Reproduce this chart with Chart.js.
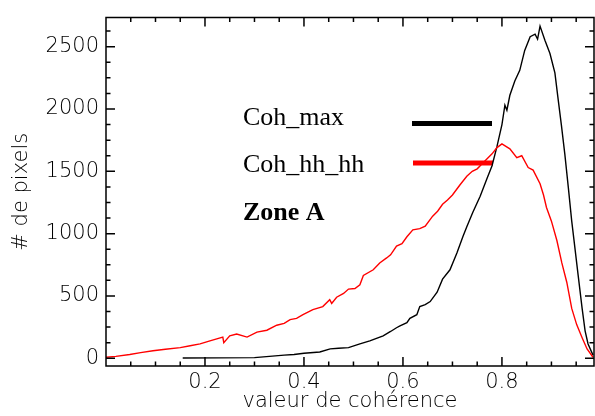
<!DOCTYPE html>
<html>
<head>
<meta charset="utf-8">
<script src="https://cdn.jsdelivr.net/npm/chart.js@4/dist/chart.umd.min.js"></script>
<style>
  html, body { margin: 0; padding: 0; background: #fff; }
  #wrap { width: 595px; height: 416px; }
</style>
</head>
<body>
<div id="wrap"><canvas id="histo"></canvas></div>
<script>
// coherence histogram
const cohHhX = [0.000, 0.020, 0.048, 0.070, 0.095, 0.120, 0.150, 0.170, 0.190, 0.210,
  0.236, 0.238, 0.250, 0.264, 0.285, 0.305, 0.325, 0.345, 0.360, 0.372,
  0.385, 0.398, 0.418, 0.438, 0.452, 0.456, 0.466, 0.480, 0.490, 0.503,
  0.513, 0.520, 0.540, 0.553, 0.567, 0.575, 0.587, 0.598, 0.608, 0.620,
  0.634, 0.645, 0.660, 0.670, 0.680, 0.690, 0.700, 0.715, 0.729, 0.740,
  0.750, 0.760, 0.770, 0.780, 0.790, 0.800, 0.808, 0.816, 0.830, 0.840,
  0.853, 0.863, 0.877, 0.884, 0.890, 0.900, 0.911, 0.921, 0.931, 0.941,
  0.951, 0.962, 0.972, 0.984];
const cohHhY = [8, 15, 30, 45, 60, 72, 85, 100, 115, 140,
  170, 125, 180, 195, 170, 210, 225, 265, 280, 310,
  320, 350, 390, 415, 470, 440, 490, 520, 555, 560,
  590, 665, 710, 765, 805, 830, 900, 920, 975, 1030,
  1040, 1060, 1140, 1180, 1235, 1270, 1310, 1390, 1460, 1500,
  1520, 1560, 1600, 1640, 1690, 1720, 1700, 1680, 1610, 1625,
  1530, 1510, 1400, 1310, 1210, 1100, 945, 765, 610, 400,
  270, 165, 75, 8];

const cohMaxX = [0.155, 0.300, 0.330, 0.360, 0.380, 0.400, 0.432, 0.453, 0.470, 0.490,
  0.513, 0.533, 0.560, 0.575, 0.587, 0.594, 0.608, 0.614, 0.628, 0.634,
  0.645, 0.655, 0.669, 0.680, 0.695, 0.709, 0.721, 0.729, 0.741, 0.756,
  0.770, 0.780, 0.790, 0.800, 0.806, 0.810, 0.816, 0.826, 0.836, 0.846,
  0.857, 0.867, 0.872, 0.877, 0.887, 0.897, 0.907, 0.913, 0.920, 0.927,
  0.934, 0.941, 0.947, 0.954, 0.962, 0.968, 0.974, 0.984];
const cohMaxY = [2, 5, 15, 25, 30, 40, 50, 75, 80, 85,
  115, 140, 180, 215, 245, 260, 285, 320, 350, 415,
  430, 455, 530, 635, 710, 845, 975, 1055, 1170, 1300,
  1445, 1545, 1700, 1875, 2030, 1990, 2110, 2225, 2310, 2470,
  2580, 2600, 2560, 2665, 2550, 2445, 2290, 2095, 1875, 1640,
  1375, 1100, 900, 665, 400, 220, 115, 25];

const xTicks = [0.2, 0.4, 0.6, 0.8];
const xTickLabels = ["0.2", "0.4", "0.6", "0.8"];
const yTicks = [0, 500, 1000, 1500, 2000, 2500];
const yTickLabels = ["0", "500", "1000", "1500", "2000", "2500"];
const seriesNames = ["Coh_max", "Coh_hh_hh"];
const zoneName = "Zone A";

const toPoints = (xs, ys) => xs.map((v, i) => ({ x: v, y: ys[i] }));

const axisFont = { family: "DejaVu Sans", size: 21, weight: 200, lineHeight: 1 };

// box with inward ticks on all four sides
const framePlugin = {
  id: "frame",
  afterDatasetsDraw(chart) {
    const { ctx, chartArea: a, scales } = chart;
    const x = scales.x, y = scales.y;
    ctx.save();
    ctx.strokeStyle = "#000";
    ctx.lineWidth = 1.5;
    ctx.strokeRect(a.left, a.top, a.right - a.left, a.bottom - a.top);
    ctx.beginPath();
    for (let i = 1; i * 0.05 < x.max; i++) {
      const len = i % 4 === 0 ? 9 : 4.5;
      const px = x.getPixelForValue(i * 0.05);
      ctx.moveTo(px, a.bottom); ctx.lineTo(px, a.bottom - len);
      ctx.moveTo(px, a.top); ctx.lineTo(px, a.top + len);
    }
    for (let v = 0; v < y.max; v += 125) {
      const len = v % 500 === 0 ? 9 : 4.5;
      const py = y.getPixelForValue(v);
      ctx.moveTo(a.left, py); ctx.lineTo(a.left + len, py);
      ctx.moveTo(a.right, py); ctx.lineTo(a.right - len, py);
    }
    ctx.stroke();
    ctx.restore();
  }
};

const legendPlugin = {
  id: "zoneLegend",
  beforeDatasetsDraw(chart) {
    const ctx = chart.ctx;
    ctx.save();
    ctx.fillStyle = "#000";
    ctx.textBaseline = "alphabetic";
    ctx.font = "26px 'Liberation Serif'";
    ctx.fillText(seriesNames[0], 243, 125);
    ctx.fillText(seriesNames[1], 243, 172);
    ctx.font = "bold 26px 'Liberation Serif'";
    ctx.fillText(zoneName, 243, 220);
    ctx.lineWidth = 5;
    ctx.strokeStyle = "#000";
    ctx.beginPath(); ctx.moveTo(412, 123.5); ctx.lineTo(492, 123.5); ctx.stroke();
    ctx.strokeStyle = "#ff0000";
    ctx.beginPath(); ctx.moveTo(413, 163); ctx.lineTo(493, 163); ctx.stroke();
    ctx.restore();
  }
};

new Chart(document.getElementById("histo"), {
  type: "line",
  data: {
    datasets: [
      {
        label: seriesNames[1],
        data: toPoints(cohHhX, cohHhY),
        borderColor: "#ff0000",
        borderWidth: 1.4,
        pointRadius: 0,
        tension: 0,
      },
      {
        label: seriesNames[0],
        data: toPoints(cohMaxX, cohMaxY),
        borderColor: "#000000",
        borderWidth: 1.4,
        pointRadius: 0,
        tension: 0,
      },
    ],
  },
  options: {
    responsive: true,
    maintainAspectRatio: false,
    animation: false,
    layout: { padding: { top: 8, right: 1, left: 0, bottom: 0 } },
    plugins: { legend: { display: false }, tooltip: { enabled: false } },
    scales: {
      x: {
        type: "linear",
        min: 0,
        max: 0.986,
        grid: { display: false, drawTicks: false },
        border: { display: false },
        afterBuildTicks: (scale) => { scale.ticks = xTicks.map((v) => ({ value: v })); },
        afterFit: (scale) => { scale.height = 50; },
        ticks: {
          color: "#000",
          font: axisFont,
          padding: 6,
          maxRotation: 0,
          callback: (v) => xTickLabels[xTicks.indexOf(v)] ?? "",
        },
        title: {
          display: true,
          text: "valeur de cohérence",
          color: "#000",
          font: axisFont,
          padding: { top: 0, bottom: 3.5 },
        },
      },
      y: {
        min: -62,
        max: 2734,
        grid: { display: false, drawTicks: false },
        border: { display: false },
        afterBuildTicks: (scale) => { scale.ticks = yTicks.map((v) => ({ value: v })); },
        afterFit: (scale) => { scale.width = 106; },
        ticks: {
          color: "#000",
          font: axisFont,
          padding: 7,
          callback: (v) => yTickLabels[yTicks.indexOf(v)] ?? "",
        },
        title: {
          display: true,
          text: "# de pixels",
          color: "#000",
          font: axisFont,
          padding: { top: 11.5, bottom: 0 },
        },
      },
    },
  },
  plugins: [legendPlugin, framePlugin],
});
</script>
</body>
</html>
